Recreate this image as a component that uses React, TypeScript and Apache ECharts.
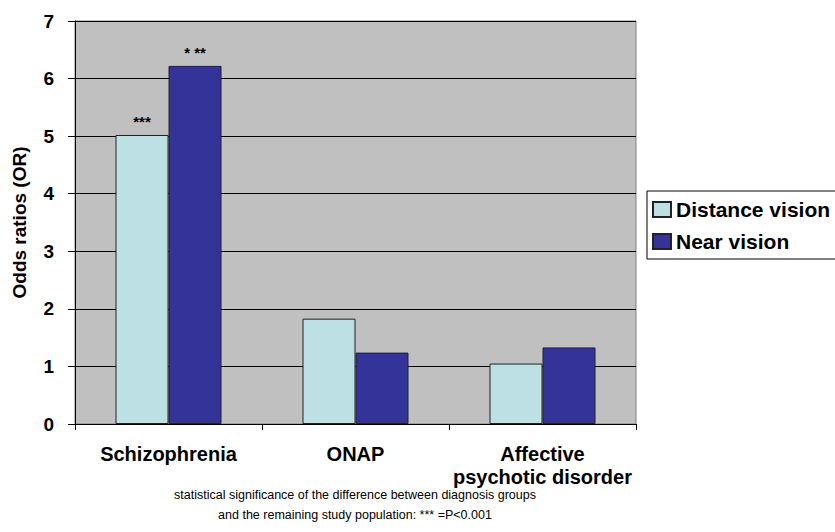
import React, { useEffect, useRef } from "react";
import * as echarts from "echarts";

const categories = ["Schizophrenia", "ONAP", "Affective\npsychotic disorder"];
const distanceVision = [5.02, 1.83, 1.05];
const nearVision = [6.22, 1.24, 1.33];
const distanceMarks = ["***", "", ""];
const nearMarks = ["* **", "", ""];
const yTicks = [0, 1, 2, 3, 4, 5, 6, 7];
const captionLines = [
  "statistical significance of the difference between diagnosis groups",
  "and the remaining study population: *** =P<0.001",
];

const FONT = "'Liberation Sans', Arial, Helvetica, sans-serif";

export default function App() {
  const ref = useRef<HTMLDivElement>(null);
  useEffect(() => {
    if (!ref.current) return;
    const chart = echarts.init(ref.current, null, { renderer: "svg" });
    const markLabel = (marks: string[]) => ({
      show: true,
      position: "top",
      distance: 6,
      color: "#000",
      fontSize: 15,
      fontWeight: "bold",
      fontFamily: FONT,
      formatter: (p: any) => marks[p.dataIndex],
    });
    chart.setOption({
      animation: false,
      backgroundColor: "#ffffff",
      textStyle: { fontFamily: FONT },
      grid: {
        left: 75,
        right: 199,
        top: 21,
        bottom: 108,
        show: true,
        backgroundColor: "#C0C0C0",
        borderColor: "#808080",
        borderWidth: 1,
      },
      legend: {
        orient: "vertical",
        left: 647,
        top: 191,
        padding: [8, 90, 7, 5],
        itemGap: 11,
        itemWidth: 18,
        itemHeight: 15,
        backgroundColor: "#ffffff",
        borderColor: "#000000",
        borderWidth: 1,
        borderRadius: 0,
        icon: "rect",
        textStyle: { fontSize: 21, fontWeight: "bold", color: "#000", fontFamily: FONT },
        data: ["Distance vision", "Near vision"],
      },
      xAxis: {
        type: "category",
        data: categories,
        axisLine: { show: true, lineStyle: { color: "#000", width: 1 } },
        axisTick: { show: true, length: 6, lineStyle: { color: "#000" } },
        axisLabel: {
          margin: 18,
          fontSize: 20,
          fontWeight: "bold",
          color: "#000",
          lineHeight: 23,
          fontFamily: FONT,
          interval: 0,
        },
        splitLine: { show: false },
      },
      yAxis: {
        type: "value",
        min: yTicks[0],
        max: yTicks[yTicks.length - 1],
        interval: 1,
        name: "Odds ratios (OR)",
        nameLocation: "middle",
        nameGap: 46,
        nameTextStyle: { fontSize: 19, fontWeight: "bold", color: "#000", fontFamily: FONT },
        axisLine: { show: true, lineStyle: { color: "#000", width: 1 } },
        axisTick: { show: true, length: 7, lineStyle: { color: "#000" } },
        axisLabel: { margin: 21, fontSize: 19, fontWeight: "bold", color: "#000", fontFamily: FONT },
        splitLine: { show: true, lineStyle: { color: "#000", width: 1 } },
      },
      series: [
        {
          name: "Distance vision",
          type: "bar",
          data: distanceVision,
          barWidth: 53,
          barGap: "0%",
          itemStyle: { color: "#BCE0E3", borderColor: "#222", borderWidth: 1 },
          label: markLabel(distanceMarks),
        },
        {
          name: "Near vision",
          type: "bar",
          data: nearVision,
          barWidth: 53,
          barGap: "0%",
          itemStyle: { color: "#333399", borderColor: "#222", borderWidth: 1 },
          label: markLabel(nearMarks),
        },
      ],
      graphic: captionLines.map((t, i) => ({
        type: "text",
        x: 355,
        y: 495 + i * 20,
        style: {
          text: t,
          align: "center",
          verticalAlign: "middle",
          fontSize: 12.5,
          fontFamily: FONT,
          fill: "#000",
        },
      })),
    });
    return () => chart.dispose();
  }, []);
  return (
    <div
      ref={ref}
      style={{ position: "fixed", left: 0, top: 0, width: 835, height: 532 }}
    />
  );
}
